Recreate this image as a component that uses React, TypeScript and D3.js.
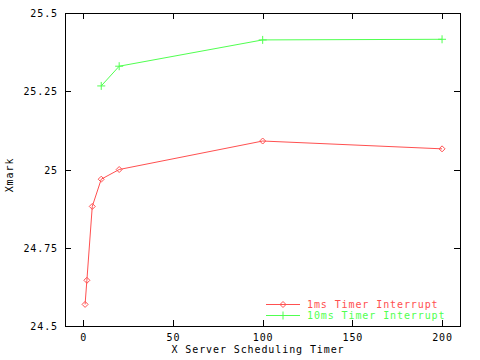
import React from "react";
import * as d3 from "d3";

// X server scheduling timer (x) vs Xmark score
const timer1ms = [1, 2, 5, 10, 20, 100, 200];
const xmark1ms = [24.569, 24.646, 24.882, 24.969, 25.0, 25.091, 25.066];
const timer10ms = [10, 20, 100, 200];
const xmark10ms = [25.267, 25.33, 25.414, 25.416];

const xTicks = [0, 50, 100, 150, 200];
const yTicks = [24.5, 24.75, 25, 25.25, 25.5];
const seriesNames = ["1ms Timer Interrupt", "10ms Timer Interrupt"];

const width = 480;
const height = 360;
const box = {left: 65, right: 460, top: 13, bottom: 326};
const red = "#ff5050";
const green = "#50ff50";
const font = "'DejaVu Sans Mono', monospace";

export default function App() {
    const x = d3.scaleLinear().domain([-10.2, 210]).range([box.left, box.right]);
    const y = d3.scaleLinear().domain([24.5, 25.5]).range([box.bottom, box.top]);

    const line = d3.line<[number, number]>()
        .x(d => x(d[0]))
        .y(d => y(d[1]));

    const pts1: [number, number][] = timer1ms.map((t, i) => [t, xmark1ms[i]]);
    const pts10: [number, number][] = timer10ms.map((t, i) => [t, xmark10ms[i]]);

    const diamond = (cx: number, cy: number, key: any) => (
        <path key={key} d={`M${cx - 3},${cy}L${cx},${cy - 3}L${cx + 3},${cy}L${cx},${cy + 3}Z`}
              fill="none" stroke={red} strokeWidth={1}/>
    );
    const plus = (cx: number, cy: number, key: any) => (
        <path key={key} d={`M${cx - 4},${cy}H${cx + 4}M${cx},${cy - 4}V${cy + 4}`}
              stroke={green} strokeWidth={1}/>
    );

    const tick = 6;
    const legendY = [304, 315];

    return (
        <svg width={width} height={height}
             style={{position: "absolute", left: 0, top: 0, backgroundColor: "white"}}
             fontFamily={font} fontSize={10} letterSpacing={0.9}>
            <rect x={box.left + 0.5} y={box.top + 0.5} width={box.right - box.left} height={box.bottom - box.top}
                  fill="none" stroke="black" strokeWidth={1}/>

            {xTicks.map(t => (
                <g key={"x" + t}>
                    <line x1={Math.round(x(t)) + 0.5} x2={Math.round(x(t)) + 0.5}
                          y1={box.bottom} y2={box.bottom - tick} stroke="black"/>
                    <line x1={Math.round(x(t)) + 0.5} x2={Math.round(x(t)) + 0.5}
                          y1={box.top} y2={box.top + tick} stroke="black"/>
                    <text x={x(t) + 0.5} y={341} textAnchor="middle">{t}</text>
                </g>
            ))}

            {yTicks.map(t => (
                <g key={"y" + t}>
                    <line x1={box.left} x2={box.left + tick}
                          y1={Math.round(y(t)) + 0.5} y2={Math.round(y(t)) + 0.5} stroke="black"/>
                    <line x1={box.right} x2={box.right - tick}
                          y1={Math.round(y(t)) + 0.5} y2={Math.round(y(t)) + 0.5} stroke="black"/>
                    <text x={58} y={y(t) + 4} textAnchor="end">{d3.format("")(t)}</text>
                </g>
            ))}

            <text x={258} y={353} textAnchor="middle">X Server Scheduling Timer</text>
            <text transform="translate(13,175) rotate(-90)" textAnchor="middle">Xmark</text>

            <path d={line(pts1) || ""} fill="none" stroke={red} strokeWidth={1}/>
            {pts1.map((p, i) => diamond(x(p[0]), y(p[1]), "d" + i))}

            <path d={line(pts10) || ""} fill="none" stroke={green} strokeWidth={1}/>
            {pts10.map((p, i) => plus(x(p[0]), y(p[1]), "p" + i))}

            {/* legend */}
            <line x1={266} x2={300} y1={legendY[0] + 0.5} y2={legendY[0] + 0.5} stroke={red}/>
            {diamond(283, legendY[0] + 0.5, "ld")}
            <text x={307} y={legendY[0] + 4} fill={red}>{seriesNames[0]}</text>
            <line x1={266} x2={300} y1={legendY[1] + 0.5} y2={legendY[1] + 0.5} stroke={green}/>
            {plus(283, legendY[1] + 0.5, "lp")}
            <text x={307} y={legendY[1] + 4} fill={green}>{seriesNames[1]}</text>
        </svg>
    );
}
